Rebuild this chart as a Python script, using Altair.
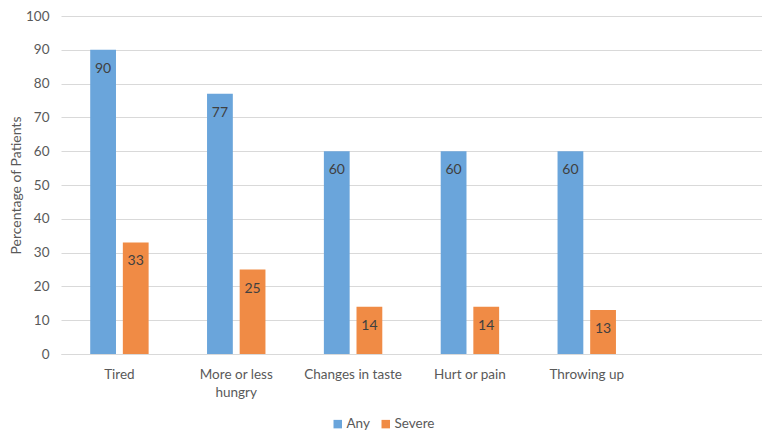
import altair as alt
import pandas as pd

categories = ["Tired", "More or less hungry", "Changes in taste", "Hurt or pain", "Throwing up"]
series = ["Any", "Severe"]
any_vals = [90, 77, 60, 60, 60]
severe_vals = [33, 25, 14, 14, 13]
colors = ["#6AA5DB", "#F08B45"]
slots = categories + [" "]

rows = []
for c, a, s in zip(categories, any_vals, severe_vals):
    rows.append({"cat": c, "series": "Any", "val": a})
    rows.append({"cat": c, "series": "Severe", "val": s})
df = pd.DataFrame(rows)

font = "Lato"
gray = "#595959"
fs = 13.5

base = alt.Chart(df).encode(
    x=alt.X(
        "cat:N",
        sort=slots,
        scale=alt.Scale(domain=slots, paddingInner=0.5, paddingOuter=0.25),
        axis=alt.Axis(
            title=None, labelAngle=0, ticks=False, domain=True, domainColor="#D9D9D9",
            labelFontSize=fs, labelColor=gray, labelFont=font, labelPadding=13,
            labelLineHeight=18,
            labelExpr="datum.value == 'More or less hungry' ? ['More or less', 'hungry'] : datum.value",
        ),
    ),
    xOffset=alt.XOffset("series:N", scale=alt.Scale(domain=series, paddingInner=0.21, paddingOuter=0)),
    y=alt.Y(
        "val:Q",
        scale=alt.Scale(domain=[0, 100]),
        axis=alt.Axis(
            values=list(range(0, 101, 10)), title="Percentage of Patients", grid=True,
            gridColor="#D9D9D9", domain=False, ticks=False, labelPadding=12,
            labelFontSize=fs, labelColor=gray, labelFont=font,
            titleFontSize=14, titleFontWeight="normal", titleColor=gray, titleFont=font,
            titlePadding=2,
        ),
    ),
)

bars = base.mark_bar().encode(
    color=alt.Color(
        "series:N",
        scale=alt.Scale(domain=series, range=colors),
        legend=alt.Legend(
            title=None, orient="none", legendX=270, legendY=401, direction="horizontal",
            symbolType="square", symbolSize=72, symbolStrokeWidth=0,
            labelFontSize=fs, labelColor=gray, labelFont=font, columnPadding=9, labelOffset=2,
        ),
    )
)

labels = base.mark_text(baseline="middle", dy=19, fontSize=14, color="#404040", font=font).encode(
    text="val:Q"
)

chart = (
    alt.layer(bars, labels)
    .properties(
        width=701, height=338,
        autosize=alt.AutoSizeParams(type="none"),
        padding={"left": 53, "top": 8, "right": 0, "bottom": 76},
    )
    .configure_view(stroke=None)
)

chart.save("out.html", embed_options={"renderer": "svg", "actions": False})
